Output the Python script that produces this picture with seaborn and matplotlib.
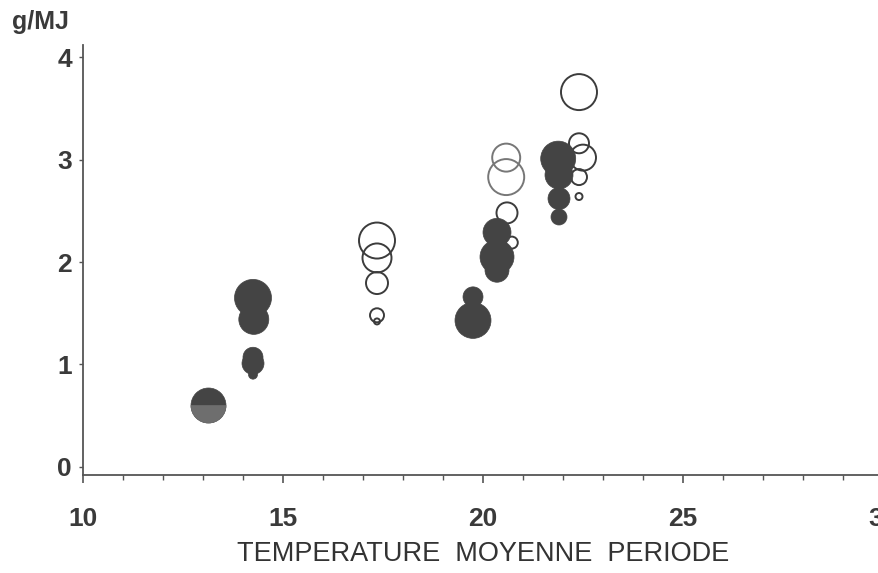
import seaborn as sns
import matplotlib.pyplot as plt
from matplotlib.markers import MarkerStyle
from matplotlib.ticker import MultipleLocator

# filled bubbles (x = temperature, y = g/MJ, r = bubble radius read in px)
filled_x = [14.25, 14.27, 14.25, 14.25, 14.25, 19.75, 19.75, 20.35, 20.35, 20.35, 21.88, 21.90, 21.90, 21.90]
filled_y = [1.65, 1.44, 1.07, 1.01, 0.90, 1.66, 1.43, 2.29, 2.05, 1.92, 3.01, 2.85, 2.62, 2.44]
filled_r = [18.5, 15, 10, 11, 4.5, 10, 18, 14, 17, 12, 17.5, 14, 11, 8]

# half-toned bubble at 13.1
half_x = [13.12]
half_y = [0.60]
half_r = [17.5]

# open bubbles
open_x = [17.35, 17.35, 17.35, 17.35, 17.35, 20.60, 20.72, 22.40, 22.40, 22.50, 22.40, 22.40]
open_y = [2.21, 2.04, 1.795, 1.48, 1.42, 2.48, 2.19, 3.66, 3.16, 3.02, 2.83, 2.64]
open_r = [18, 14.5, 11, 7, 3, 10.5, 6, 18, 10, 13, 8, 3.5]

# open bubbles in lighter grey
grey_x = [20.58, 20.58]
grey_y = [3.02, 2.83]
grey_r = [14, 18]

xticks = [10, 15, 20, 25, 30]
yticks = [0, 1, 2, 3, 4]


def area(r):
    # radius in px at 100 dpi -> marker area in pt^2
    return [(2 * v * 0.72) ** 2 for v in r]


sns.set_style("ticks")
plt.rcParams['font.family'] = ['Liberation Sans', 'DejaVu Sans']

fig = plt.figure(figsize=(8.79, 5.73), dpi=100)
ax = fig.add_axes([83 / 879, 98 / 573, 800 / 879, 430 / 573])

dark = "#444444"
sns.scatterplot(x=open_x, y=open_y, s=area(open_r), marker="o",
                facecolors="none", edgecolor="#3c3c3c", linewidth=1.4, ax=ax, zorder=3)
sns.scatterplot(x=grey_x, y=grey_y, s=area(grey_r), marker="o",
                facecolors="none", edgecolor="#777777", linewidth=1.4, ax=ax, zorder=3)
sns.scatterplot(x=filled_x, y=filled_y, s=area(filled_r), marker="o",
                color=dark, edgecolor=dark, linewidth=0.5, ax=ax, zorder=4)
sns.scatterplot(x=half_x, y=half_y, s=area(half_r), marker="o",
                color=dark, edgecolor=dark, linewidth=0.5, ax=ax, zorder=4)
sns.scatterplot(x=half_x, y=half_y, s=area(half_r), marker=MarkerStyle("o", fillstyle="bottom"),
                color="#6e6e6e", edgecolor="#6e6e6e", linewidth=0.5, ax=ax, zorder=5)

ax.set_xlim(10, 30)
ax.set_ylim(-0.08, 4.12)
ax.set_xticks(xticks)
ax.set_xticklabels([str(t) for t in xticks])
ax.set_yticks(yticks)
ax.set_yticklabels([str(t) for t in yticks])
ax.xaxis.set_minor_locator(MultipleLocator(1))

for side in ["top", "right"]:
    ax.spines[side].set_visible(False)
for side in ["left", "bottom"]:
    ax.spines[side].set_color("#555555")
    ax.spines[side].set_linewidth(1.3)

ax.tick_params(axis="x", which="major", direction="out", length=6, width=1.2,
               color="#555555", pad=17, labelsize=19, labelcolor="#3a3a3a")
ax.tick_params(axis="x", which="minor", direction="out", length=3.5, width=1,
               color="#555555", bottom=True)
ax.tick_params(axis="y", which="major", direction="out", length=3, width=1,
               color="#555555", pad=5, labelsize=19, labelcolor="#3a3a3a")
for lab in ax.get_xticklabels() + ax.get_yticklabels():
    lab.set_fontweight("bold")

ax.set_xlabel("TEMPERATURE  MOYENNE  PERIODE", fontsize=19.5, color="#333333", labelpad=7)
fig.text(12 / 879, 1 - 22 / 573, "g/MJ", fontsize=18, fontweight="bold",
         color="#3a3a3a", va="center", ha="left")

fig.savefig("out.png", dpi=100, facecolor="white")
